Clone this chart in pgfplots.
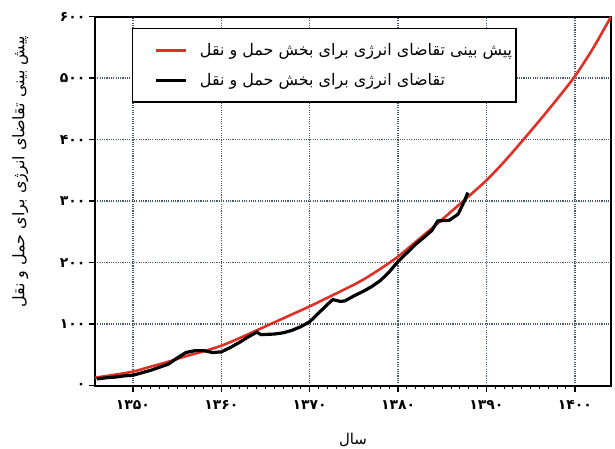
\documentclass[border=0pt]{standalone}
\usepackage{fontspec}
\usepackage{pgfplots}
\pgfplotsset{compat=1.18}
\setmainfont{DejaVu Sans}
\newfontfamily\arabicfont[Script=Arabic]{DejaVu Sans}
\TeXXeTstate=1
\definecolor{gridc}{RGB}{70,88,108}
\definecolor{fred}{RGB}{222,48,36}

\begin{document}
\begin{tikzpicture}
\begin{axis}[
    scale only axis,
    width=516bp, height=369bp,
    xmin=1345.7, xmax=1404.1,
    ymin=0, ymax=600,
    xtick={1350,1360,...,1400},
    xticklabels={۱۳۵۰,۱۳۶۰,۱۳۷۰,۱۳۸۰,۱۳۹۰,۱۴۰۰},
    ytick={0,100,...,600},
    yticklabels={۰,۱۰۰,۲۰۰,۳۰۰,۴۰۰,۵۰۰,۶۰۰},
    minor x tick num=9,
    tick pos=left,
    tick align=outside,
    major tick length=6bp,
    minor tick length=3.5bp,
    every major tick/.append style={line width=1.5pt, black},
    every minor tick/.append style={line width=1pt, black},
    axis line style={line width=2pt},
    ticklabel style={font=\arabicfont\bfseries\fontsize{14}{16}\selectfont},
    xticklabel style={yshift=-5bp},
    grid=major,
    major grid style={gridc, line width=1.5pt, dash pattern=on 1.1pt off 1.2pt},
    xlabel={\arabicfont\beginR سال\endR},
    xlabel style={at={(axis description cs:0.5,-0.148)}, anchor=center, font=\fontsize{15}{17}\selectfont},
    ylabel={\arabicfont\beginR پیش بینی تقاضای انرژی برای حمل و نقل\endR},
    ylabel style={at={(axis description cs:-0.145,0.58)}, anchor=center, font=\fontsize{16}{18}\selectfont},
    legend cell align=left,
    legend style={at={(0.072,0.969)}, anchor=north west, draw=black, line width=1.3pt,
        inner xsep=2bp, inner ysep=13bp, row sep=12bp,
        font=\arabicfont\fontsize{16}{18}\selectfont},
    legend image code/.code={\path (0bp,0bp) (60bp,0bp); \draw[#1] (20bp,0bp) -- (50bp,0bp);},
]
\addplot[fred, line width=2.6pt, smooth] coordinates {
(1345.7,13) (1348,18) (1350,23) (1352,31) (1354,39) (1356,48) (1358,56) (1360,65)
(1362,77) (1364,90) (1366,103) (1368,116) (1370,129) (1372,143) (1374,157) (1376,172)
(1378,190) (1380,210) (1382,234) (1384,258) (1386,283) (1388,308) (1390,334) (1392,364)
(1394,397) (1396,431) (1398,466) (1400,503) (1402,547) (1404.1,600)
};
\addlegendentry{\beginR پیش بینی تقاضای انرژی برای بخش حمل و نقل\endR}
\addplot[black, line width=3.2pt] coordinates {
(1345.9,11) (1347,13) (1348,14) (1349,16) (1350,17) (1351,21) (1352,25) (1353,30)
(1354,35) (1355,45) (1356,54) (1357,57) (1358,57) (1359,54) (1360,55) (1361,62)
(1362,70) (1363,79) (1364,87) (1364.5,83) (1366,84) (1367,86) (1368,90) (1369,96)
(1370,104) (1371,118) (1372,132) (1372.6,140) (1373.5,137) (1374,138) (1375,146)
(1376,153) (1377,161) (1378,171) (1379,185) (1380,202) (1381,216) (1382,230)
(1383,242) (1383.8,252) (1384.5,268) (1385.8,269) (1386.8,279) (1387.5,300) (1387.9,314)
};
\addlegendentry{\beginR تقاضای انرژی برای بخش حمل و نقل\endR}
\end{axis}
\pgfresetboundingbox
\useasboundingbox (-95bp,-62.5bp) rectangle (520bp,385.7bp);
\end{tikzpicture}
\end{document}
